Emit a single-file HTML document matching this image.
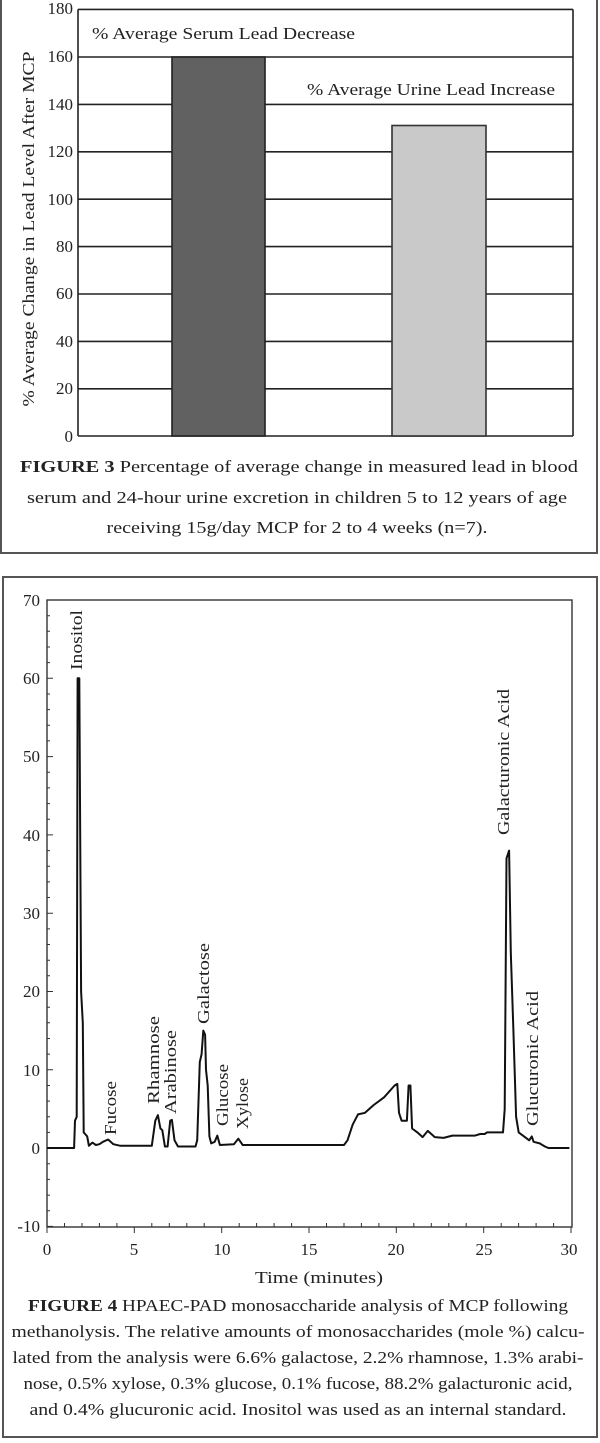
<!DOCTYPE html>
<html><head><meta charset="utf-8"><style>
html,body{margin:0;padding:0;background:#fff}
svg{display:block}
text{font-family:"Liberation Serif",serif;fill:#222}
</style></head><body>
<svg width="600" height="1443" viewBox="0 0 600 1443" xmlns="http://www.w3.org/2000/svg">
<rect x="1" y="-5" width="596" height="558" fill="none" stroke="#555" stroke-width="2"/>
<rect x="3" y="577" width="594" height="860" fill="none" stroke="#555" stroke-width="2"/>

<!-- FIGURE 3 -->
<g stroke="#222" stroke-width="1.6" fill="none">
<line x1="78" y1="9.4" x2="573" y2="9.4"/>
<line x1="573" y1="9.4" x2="573" y2="436"/>
<line x1="78" y1="9.4" x2="78" y2="436"/>
<line x1="78" y1="436" x2="573" y2="436"/>
<line x1="78" y1="57" x2="573" y2="57"/>
<line x1="78" y1="104.4" x2="573" y2="104.4"/>
<line x1="78" y1="151.8" x2="573" y2="151.8"/>
<line x1="78" y1="199.2" x2="573" y2="199.2"/>
<line x1="78" y1="246.6" x2="573" y2="246.6"/>
<line x1="78" y1="294" x2="573" y2="294"/>
<line x1="78" y1="341.4" x2="573" y2="341.4"/>
<line x1="78" y1="388.8" x2="573" y2="388.8"/>
</g>
<rect x="172" y="57" width="93" height="379" fill="#616161" stroke="#222" stroke-width="1.6"/>
<rect x="392" y="125.5" width="94" height="310.5" fill="#c9c9c9" stroke="#333" stroke-width="1.6"/>
<g font-size="17" text-anchor="end">
<text x="73" y="14">180</text><text x="73" y="62">160</text><text x="73" y="110">140</text>
<text x="73" y="157">120</text><text x="73" y="205">100</text><text x="73" y="252">80</text>
<text x="73" y="299">60</text><text x="73" y="347">40</text><text x="73" y="394">20</text>
<text x="73" y="442">0</text>
</g>
<text x="92" y="39" font-size="17" textLength="263" lengthAdjust="spacingAndGlyphs">% Average Serum Lead Decrease</text>
<text x="307" y="95" font-size="17" textLength="248" lengthAdjust="spacingAndGlyphs">% Average Urine Lead Increase</text>
<text transform="translate(34,229) rotate(-90)" text-anchor="middle" font-size="17" textLength="355" lengthAdjust="spacingAndGlyphs">% Average Change in Lead Level After MCP</text>
<g font-size="17" text-anchor="middle">
<text x="299" y="472" textLength="558" lengthAdjust="spacingAndGlyphs"><tspan font-weight="bold">FIGURE 3</tspan> Percentage of average change in measured lead in blood</text>
<text x="297" y="503" textLength="540" lengthAdjust="spacingAndGlyphs">serum and 24-hour urine excretion in children 5 to 12 years of age</text>
<text x="297" y="533" textLength="381" lengthAdjust="spacingAndGlyphs">receiving 15g/day MCP for 2 to 4 weeks (n=7).</text>
</g>

<!-- FIGURE 4 -->
<rect x="47" y="600" width="525" height="627" fill="none" stroke="#333" stroke-width="1.4"/>
<g stroke="#333" stroke-width="1">
<path d="M47 600h6M47 678.3h6M47 756.6h6M47 834.9h6M47 913.2h6M47 991.5h6M47 1069.8h6M47 1148.1h6M47 1226.4h6"/>
<path d="M47 615.7h3M47 631.3h3M47 647h3M47 662.6h3M47 694h3M47 709.6h3M47 725.3h3M47 740.9h3M47 772.3h3M47 787.9h3M47 803.6h3M47 819.2h3M47 850.6h3M47 866.2h3M47 881.9h3M47 897.5h3M47 928.9h3M47 944.5h3M47 960.2h3M47 975.8h3M47 1007.2h3M47 1022.8h3M47 1038.5h3M47 1054.1h3M47 1085.5h3M47 1101.1h3M47 1116.8h3M47 1132.4h3M47 1163.8h3M47 1179.4h3M47 1195.1h3M47 1210.7h3"/>
<path d="M47 1227v6M134.3 1227v6M221.7 1227v6M309 1227v6M396.3 1227v6M483.7 1227v6M571 1227v6"/>
<path d="M64.5 1227v-4M82 1227v-4M99.4 1227v-4M116.9 1227v-4M151.8 1227v-4M169.3 1227v-4M186.8 1227v-4M204.2 1227v-4M239.2 1227v-4M256.6 1227v-4M274.1 1227v-4M291.6 1227v-4M326.5 1227v-4M344 1227v-4M361.4 1227v-4M378.9 1227v-4M413.8 1227v-4M431.3 1227v-4M448.8 1227v-4M466.2 1227v-4M501.2 1227v-4M518.6 1227v-4M536.1 1227v-4M553.6 1227v-4"/>
</g>
<g font-size="17" text-anchor="end">
<text x="40" y="606">70</text><text x="40" y="684">60</text><text x="40" y="762">50</text>
<text x="40" y="841">40</text><text x="40" y="919">30</text><text x="40" y="997">20</text>
<text x="40" y="1076">10</text><text x="40" y="1154">0</text><text x="40" y="1232">-10</text>
</g>
<g font-size="17" text-anchor="middle">
<text x="47" y="1255">0</text><text x="134" y="1255">5</text><text x="222" y="1255">10</text>
<text x="309" y="1255">15</text><text x="396" y="1255">20</text><text x="484" y="1255">25</text>
<text x="569" y="1255">30</text>
<text x="319" y="1283" textLength="128" lengthAdjust="spacingAndGlyphs">Time (minutes)</text>
</g>
<polyline fill="none" stroke="#111" stroke-width="2" stroke-linejoin="round" points="
47,1148 74.1,1148 75,1120.7 76.7,1116.8 77.6,678.3 79.3,678.3 81.1,991.5 82.8,1022.8 83.7,1132.4 87.2,1136.4 88.9,1145.8 92.4,1142.6 95.9,1145 99.4,1144.2 102.9,1141.8 108.1,1139.5 113.4,1144.2 120.4,1145.8 143.1,1145.8 151.8,1145.8 155.3,1120.7 157.9,1115.2 160.4,1128.5 162.3,1130.1 164.9,1146.5 167.6,1146.5 170.2,1120.7 171.9,1119.9 174.5,1140.3 178,1146.5 195.5,1146.5 197.2,1140.3 199.8,1062 201.6,1054.1 203.3,1030.6 205.1,1034.6 206,1069.8 207.7,1085.5 209.4,1136.4 211.2,1143.4 214.7,1141.8 217.3,1135.6 219.9,1145 233.9,1144.2 238.3,1138.7 242.7,1145 344,1145 347.5,1140.3 352.7,1124.6 358,1114.4 365,1112.8 373.7,1105 384.2,1097.2 394.6,1085.5 397.3,1083.9 399,1112.8 401.6,1120.7 406.9,1120.7 408.6,1085.5 410.4,1085.5 412.1,1128.5 417.4,1132.4 422.6,1137.1 427.8,1130.9 434.8,1137.1 443.6,1137.9 452.3,1135.6 475,1135.6 480.2,1134 484.6,1134 487.1,1132.4 503,1132.4 504.7,1109 506.5,858.4 509.1,850.6 510.8,952.4 513.4,1030.6 516.1,1116.8 518.7,1132.4 529.2,1140.3 531.8,1136.4 533.6,1141.8 539.7,1143.4 544.9,1146.5 548.4,1148 569.4,1148"/>
<g font-size="17" lengthAdjust="spacingAndGlyphs">
<text transform="translate(82,670) rotate(-90)" textLength="60" lengthAdjust="spacingAndGlyphs">Inositol</text>
<text transform="translate(116,1135) rotate(-90)" textLength="54" lengthAdjust="spacingAndGlyphs">Fucose</text>
<text transform="translate(159,1104) rotate(-90)" textLength="88" lengthAdjust="spacingAndGlyphs">Rhamnose</text>
<text transform="translate(176,1114) rotate(-90)" textLength="84" lengthAdjust="spacingAndGlyphs">Arabinose</text>
<text transform="translate(209,1024) rotate(-90)" textLength="81" lengthAdjust="spacingAndGlyphs">Galactose</text>
<text transform="translate(228,1126) rotate(-90)" textLength="62" lengthAdjust="spacingAndGlyphs">Glucose</text>
<text transform="translate(248,1129) rotate(-90)" textLength="51" lengthAdjust="spacingAndGlyphs">Xylose</text>
<text transform="translate(509,835) rotate(-90)" textLength="146" lengthAdjust="spacingAndGlyphs">Galacturonic Acid</text>
<text transform="translate(538,1126) rotate(-90)" textLength="135" lengthAdjust="spacingAndGlyphs">Glucuronic Acid</text>
</g>
<g font-size="17" text-anchor="middle">
<text x="298" y="1311" textLength="540" lengthAdjust="spacingAndGlyphs"><tspan font-weight="bold">FIGURE 4</tspan> HPAEC-PAD monosaccharide analysis of MCP following</text>
<text x="298" y="1337" textLength="573" lengthAdjust="spacingAndGlyphs">methanolysis. The relative amounts of monosaccharides (mole %) calcu-</text>
<text x="298" y="1363" textLength="571" lengthAdjust="spacingAndGlyphs">lated from the analysis were 6.6% galactose, 2.2% rhamnose, 1.3% arabi-</text>
<text x="298" y="1389" textLength="549" lengthAdjust="spacingAndGlyphs">nose, 0.5% xylose, 0.3% glucose, 0.1% fucose, 88.2% galacturonic acid,</text>
<text x="298" y="1415" textLength="537" lengthAdjust="spacingAndGlyphs">and 0.4% glucuronic acid. Inositol was used as an internal standard.</text>
</g>
</svg>
</body></html>
